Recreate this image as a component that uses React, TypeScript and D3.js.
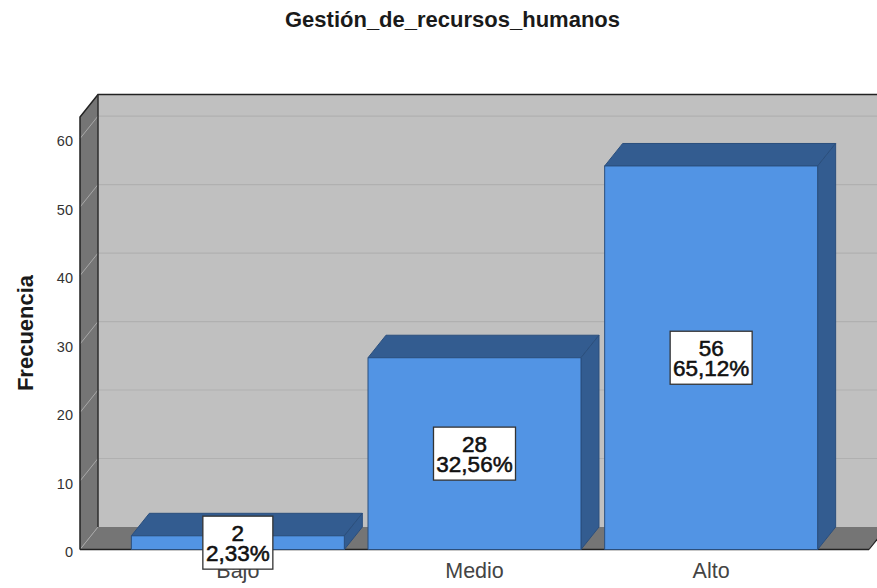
import React from "react";
import * as d3 from "d3";

const title = "Gestión_de_recursos_humanos";
const yLabel = "Frecuencia";
const categories = ["Bajo", "Medio", "Alto"];
const counts = [2, 28, 56];
const percents = ["2,33%", "32,56%", "65,12%"];
const yTicks = [0, 10, 20, 30, 40, 50, 60];

const W = 877, H = 588;
const DX = 18, DY = -22.5;
const L = 80, R = 869, B = 549.5, T = 117;
const FONT = "'Liberation Sans', Arial, sans-serif";

const y = d3.scaleLinear().domain([0, 63.15]).range([B, T]);
const x = d3.scaleBand<string>().domain(categories).range([L, R]).paddingInner(0.1).paddingOuter(0.217);

const poly = (pts: [number, number][]) => d3.line()(pts) + "Z";

export default function App() {
  const band = x.bandwidth();
  return (
    <svg width={W} height={H} viewBox={`0 0 ${W} ${H}`}
      style={{ position: "absolute", left: 0, top: 0, background: "#fff", fontFamily: FONT }}>
      <text x={452.5} y={26.5} textAnchor="middle" fontSize={22} fontWeight="bold" fill="#1a1a1a">{title}</text>

      {/* walls */}
      <rect x={L + DX} y={T + DY} width={R - L} height={B - T} fill="#c0c0c0" />
      <path d={poly([[L, T], [L + DX, T + DY], [L + DX, B + DY], [L, B]])} fill="#757575" />
      <path d={poly([[L, B], [R, B], [R + DX, B + DY], [L + DX, B + DY]])} fill="#757575" />

      {/* grid */}
      {yTicks.map(t => (
        <g key={t} fill="none">
          {t > 0 && <line x1={L + DX} x2={R + DX} y1={y(t) + DY} y2={y(t) + DY} stroke="#b0b0b0" strokeWidth={1.2} />}
          <line x1={L} x2={L + DX} y1={y(t)} y2={y(t) + DY} stroke="#a8a8a8" strokeWidth={1} />
        </g>
      ))}

      {/* frame */}
      <path d={`M${L},${B}V${T}L${L + DX},${T + DY}H${W}`} fill="none" stroke="#222" strokeWidth={1.5} />
      <line x1={L + DX} x2={L + DX} y1={T + DY} y2={B + DY} stroke="#2e2e2e" strokeWidth={1.5} />
      <line x1={L} x2={R} y1={B} y2={B} stroke="#222" strokeWidth={1.5} />
      <line x1={R} x2={R + DX} y1={B} y2={B + DY} stroke="#222" strokeWidth={1.2} />

      {/* tick labels */}
      {yTicks.map(t => (
        <text key={t} x={73} y={y(t) + 7.5} textAnchor="end" fontSize={14.5} fill="#333">{t}</text>
      ))}

      {/* category labels */}
      {categories.map(c => (
        <text key={c} x={x(c)! + band / 2} y={578} textAnchor="middle" fontSize={21.5} fill="#444">{c}</text>
      ))}

      <text transform={`translate(33,333) rotate(-90)`} textAnchor="middle" fontSize={22} fontWeight="bold" fill="#1a1a1a">{yLabel}</text>

      {/* bars */}
      {categories.map((c, i) => {
        const x0 = x(c)!, x1 = x0 + band, yt = y(counts[i]);
        return (
          <g key={c} stroke="#2b4f7d" strokeWidth={1} strokeLinejoin="round">
            <path d={poly([[x0, yt], [x0 + DX, yt + DY], [x1 + DX, yt + DY], [x1, yt]])} fill="#335c90" />
            <path d={poly([[x1, yt], [x1 + DX, yt + DY], [x1 + DX, B + DY], [x1, B]])} fill="#335c90" />
            <rect x={x0} y={yt} width={band} height={B - yt} fill="#5294e4" />
          </g>
        );
      })}

      {/* value boxes */}
      {categories.map((c, i) => {
        const cx = x(c)! + band / 2, cy = (y(counts[i]) + B) / 2;
        const w = percents[i].length * 12 + 10, h = 53;
        return (
          <g key={c}>
            <rect x={cx - w / 2} y={cy - h / 2} width={w} height={h} fill="#fff" stroke="#333" strokeWidth={1.3} />
            <g textAnchor="middle" fontSize={22.5} fill="#111" stroke="#111" strokeWidth={0.55}>
              <text x={cx} y={cy - 2}>{counts[i]}</text>
              <text x={cx} y={cy + 18.5}>{percents[i]}</text>
            </g>
          </g>
        );
      })}
    </svg>
  );
}
